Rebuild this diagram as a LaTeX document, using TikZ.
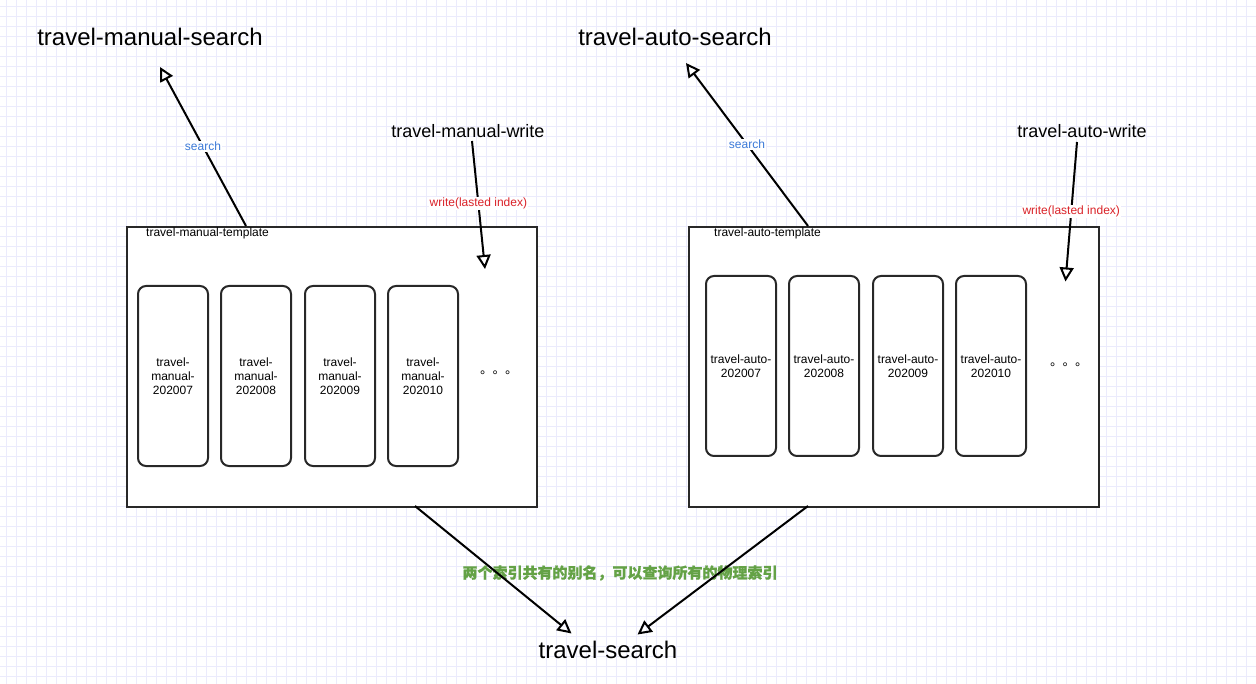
\documentclass[tikz,border=0pt]{standalone}
\usepackage{fontspec}
\setmainfont{Liberation Sans}
\newfontfamily\cjk[FakeBold=0.8]{Noto Sans CJK SC}
\newfontfamily\cjktc{Noto Sans CJK TC}
\usetikzlibrary{arrows.meta}
\definecolor{gridc}{RGB}{235,235,252}
\definecolor{boxc}{RGB}{40,40,40}
\definecolor{searchc}{RGB}{60,122,216}
\definecolor{writec}{RGB}{218,34,40}
\definecolor{notec}{RGB}{100,162,70}
\tikzset{
  title/.style={font=\fontsize{24}{28}\selectfont, inner sep=0pt},
  alias/.style={font=\fontsize{18}{21}\selectfont, inner sep=0pt},
  tmpl/.style={draw=boxc, line width=1.6pt, fill=white, minimum width=410pt, minimum height=280pt, inner sep=0pt, anchor=north west},
  tmpllabel/.style={font=\fontsize{12}{14}\selectfont, inner sep=0pt, anchor=west},
  idx/.style={draw=boxc, line width=2pt, rounded corners=8pt, fill=white, minimum width=70pt, minimum height=180pt, inner sep=0pt, align=center, font=\fontsize{12}{14}\selectfont},
  dots/.style={font=\cjktc\fontsize{12.5}{14}\selectfont, inner sep=0pt},
  conn/.style={line width=2pt, black, -{Triangle[open,length=14pt,width=14pt]}},
  lbl/.style={fill=white, inner sep=1pt, font=\fontsize{12}{14}\selectfont},
}
\begin{document}
\begin{tikzpicture}[x=1pt,y=-1pt]
\useasboundingbox (0,0) rectangle (1256,684);
\fill[white] (0,0) rectangle (1256,684);
% grid
\foreach \i in {0,...,125} \draw[gridc, line width=0.8pt] ({6+10*\i},0) -- ({6+10*\i},684);
\foreach \j in {0,...,67} \draw[gridc, line width=0.8pt] (0,{6+10*\j}) -- (1256,{6+10*\j});

% titles
\node[title] (ms) at (150,37) {travel-manual-search};
\node[title] (as) at (675,37) {travel-auto-search};
\node[title] (ts) at (608,650) {travel-search};
\node[alias] (mw) at (468,131) {travel-manual-write};
\node[alias] (aw) at (1082,131) {travel-auto-write};

% template boxes
\node[tmpl] (mt) at (126,226) {};
\node[tmpl] (at) at (688,226) {};
\node[tmpllabel] (mtl) at (146,233) {travel-manual-template};
\node[tmpllabel] (atl) at (714,233) {travel-auto-template};

% index boxes
\node[idx] (m7) at (173,376) {travel-\\manual-\\202007};
\node[idx] (m8) at (256,376) {travel-\\manual-\\202008};
\node[idx] (m9) at (340,376) {travel-\\manual-\\202009};
\node[idx] (m10) at (423,376) {travel-\\manual-\\202010};
\node[dots] (mdots) at (495,374) {。。。};

\node[idx] (a7) at (741,366) {travel-auto-\\202007};
\node[idx] (a8) at (824,366) {travel-auto-\\202008};
\node[idx] (a9) at (908,366) {travel-auto-\\202009};
\node[idx] (a10) at (991,366) {travel-auto-\\202010};
\node[dots] (adots) at (1065,366.5) {。。。};

% note
\node[text=notec, inner sep=0pt, font=\cjk\bfseries\fontsize{15}{18}\selectfont] (note) at (620,573) {两个索引共有的别名，可以查询所有的物理索引};

% connector endpoints
\coordinate (mtTop) at (246,226);
\coordinate (atTop) at (808,226);
\coordinate (msTip) at (160,67);
\coordinate (asTip) at (686,63);
\coordinate (mwStart) at (472,141);
\coordinate (mwTip) at (485,269);
\coordinate (awStart) at (1077,142);
\coordinate (awTip) at (1065.5,281.5);
\coordinate (mtBot) at (415,506);
\coordinate (atBot) at (808,506);
\coordinate (tsL) at (571.5,633.5);
\coordinate (tsR) at (637.5,634.5);

% connectors
\draw[conn] (mtTop) -- node[lbl, text=searchc] (lblms) {search} (msTip);
\draw[conn] (atTop) -- node[lbl, text=searchc] (lblas) {search} (asTip);
\draw[conn] (mwStart) -- node[lbl, text=writec, pos=0.49] (lblmw) {write(lasted index)} (mwTip);
\draw[conn] (awStart) -- node[lbl, text=writec] (lblaw) {write(lasted index)} (awTip);
\draw[conn] (mtBot) -- (tsL);
\draw[conn] (atBot) -- (tsR);
\end{tikzpicture}
\end{document}
